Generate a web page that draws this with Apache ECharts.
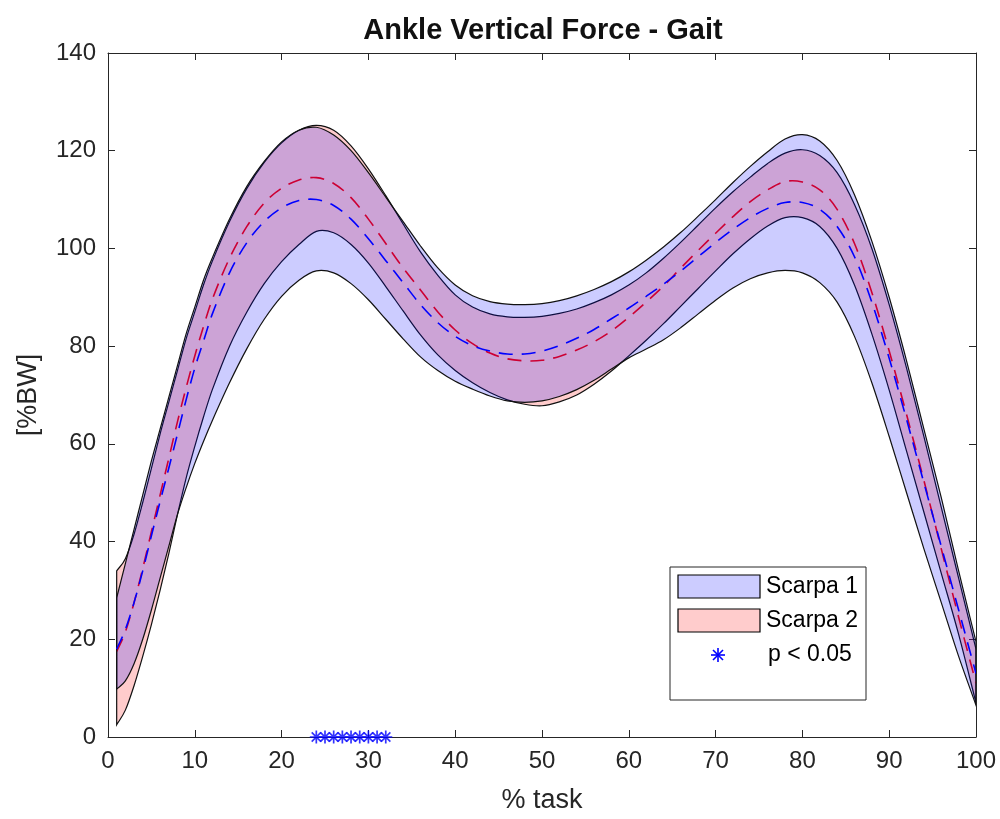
<!DOCTYPE html>
<html><head><meta charset="utf-8">
<script src="https://cdn.jsdelivr.net/npm/echarts/dist/echarts.min.js"></script>
<style>html,body{margin:0;padding:0;background:#fff}#c{width:1000px;height:819px}</style>
</head><body><div id="c"></div>
<script>
// % task sample positions
const X = [1,2,3,4,5,6,7,8,9,10,11,12,14,16,18,20,22,24,26,28,30,32,34,36,38,40,42,44,46,48,50,52,54,56,58,60,62,64,66,68,70,72,74,76,78,80,82,84,86,88,90,92,94,96,98,100];
// Scarpa 1 (blue)
const scarpa1Upper = [28.5,35.5,42.5,49.5,56.5,63,69.5,76,82.5,88,93.5,98,106,112.7,117.8,121.8,124.2,124.8,123.2,120,115.5,110.5,105.5,100.5,96,92.5,90.3,89.1,88.6,88.5,88.7,89.3,90.3,91.6,93.2,95.2,97.6,100.3,103.3,106.6,110,113.5,116.8,119.8,122.4,123.3,122,118,111,101.5,90,77,63,49,34,19.5];
const scarpa1Mean  = [18,22,27.5,34,41.2,48.2,55,62,69,75.5,81,86.5,95,101.2,105.5,108.3,109.8,110,108.8,106,102,97.5,93,88.5,84.8,82,80.1,79,78.4,78.4,79,80.1,81.6,83.4,85.6,87.8,90.2,92.7,95.4,98.3,101.2,103.9,106.3,108.2,109.4,109.4,108,104.5,98.3,89,77.5,65,52,39,26,13];
const scarpa1Lower = [9.8,11.5,15,20,26,32.5,39,45.5,51,56,60.5,64.7,72.5,79.5,85.5,90.2,93.5,95.4,95,92.8,89.5,85.5,81.5,77.8,75,72.8,71.2,69.8,68.8,68.5,68.8,69.7,71.1,73,75.3,77.6,79.4,81.3,83.8,86.6,89.4,91.9,93.8,95,95.5,95,93,89,82,72.5,61.5,50,38.5,27.5,16.5,6.5];
// Scarpa 2 (red)
const scarpa2Upper = [34,36.5,41.5,48,55,62,68.5,75,81.5,87,92.5,97.3,105.5,112.3,117.6,121.6,124.2,125.2,124.2,121,116.3,110.8,105,99.3,94.5,90.5,88,86.6,86,85.9,86.1,86.7,87.6,88.9,90.5,92.5,95,98,101.3,104.8,108.3,111.6,114.6,117.4,119.5,120.2,119,115.5,109,100,88.5,75.5,61.5,47,32.5,18];
const scarpa2Mean  = [17.5,21.5,27.5,34.5,42,49.5,57,64.5,71.5,78,84,89.5,98,104.5,109.3,112.3,114,114.5,113.3,110.4,106,101,96,91.5,87,83.3,80.5,78.6,77.4,77,77.1,77.9,79.2,80.9,83.1,85.9,89,92.3,96,99.6,103.1,106.5,109.6,112,113.7,113.6,112,108,101,91,79,66,52.5,38.5,24.5,11];
const scarpa2Lower = [2.5,5.5,10.5,16.5,23,30,37.5,45.5,53,59.5,65.5,71,80,87,92.8,97.3,100.8,103.5,103.2,100.8,97,92.2,87.2,82.3,78.2,75,72.5,70.5,69,68.1,67.8,68.6,70,72.2,74.9,78,81.2,84.6,88.2,91.8,95.4,98.9,102,104.6,106.3,106.3,104.5,100,92.5,82.5,71,58.5,46,33.5,21,7];
// significant samples (p < 0.05)
const sigX = [24,25,26,27,28,29,30,31,32];
const sigY = [0,0,0,0,0,0,0,0,0];
// tick settings
const xTicks = {min:0, max:100, interval:10};
const yTicks = {min:0, max:140, interval:20};

const FONT = '"Liberation Sans", Arial, Helvetica, sans-serif';
const AX = '#262626';

// cubic Hermite path through pixel points (x may go either direction)
function curvePath(p, start){
  const n = p.length;
  const s = p.map((q,i)=>{
    const a = p[Math.max(0,i-1)], b = p[Math.min(n-1,i+1)];
    return (b[1]-a[1])/(b[0]-a[0]);
  });
  let d = (start ? 'M' : 'L') + p[0][0].toFixed(2) + ',' + p[0][1].toFixed(2);
  for(let i=0;i<n-1;i++){
    const h = p[i+1][0]-p[i][0];
    const c1x = p[i][0]+h/3, c1y = p[i][1]+s[i]*h/3;
    const c2x = p[i+1][0]-h/3, c2y = p[i+1][1]-s[i+1]*h/3;
    d += 'C'+c1x.toFixed(2)+','+c1y.toFixed(2)+' '+c2x.toFixed(2)+','+c2y.toFixed(2)+' '+p[i+1][0].toFixed(2)+','+p[i+1][1].toFixed(2);
  }
  return d;
}

function band(U, L, fill, z){
  return {type:'custom', silent:true, z:z, clip:true,
    data:[[X[0], U[0]]], encode:{x:0, y:1},
    renderItem:function(params, api){
      const up = X.map((x,i)=>api.coord([x, U[i]]));
      const lo = X.map((x,i)=>api.coord([x, L[i]])).reverse();
      const d = curvePath(up, true) + curvePath(lo, false) + 'Z';
      return {type:'path', shape:{pathData:d}, style:{fill:fill, stroke:'#111', lineWidth:1.2}};
    }};
}
function meanLine(M, color, z){
  return {type:'custom', silent:true, z:z, clip:true,
    data:[[X[0], M[0]]], encode:{x:0, y:1},
    renderItem:function(params, api){
      const p = X.map((x,i)=>api.coord([x, M[i]]));
      return {type:'path', shape:{pathData:curvePath(p, true)},
        style:{fill:null, stroke:color, lineWidth:1.6, lineDash:[14,9]}};
    }};
}

const axisCommon = {
  axisLine:{show:true, onZero:false, lineStyle:{color:AX, width:1}},
  axisTick:{show:true, inside:true, length:7, lineStyle:{color:AX, width:1}},
  splitLine:{show:false}
};

const chart = echarts.init(document.getElementById('c'), null, {renderer:'canvas'});
chart.setOption({
  animation:false,
  backgroundColor:'#fff',
  title:{text:'Ankle Vertical Force - Gait', left:538, top:11, textAlign:'center',
    textStyle:{fontFamily:FONT, fontSize:29, fontWeight:'bold', color:'#111'}},
  grid:{left:108, right:24, top:53, bottom:79, containLabel:false},
  xAxis:[
    Object.assign({type:'value', position:'bottom', min:xTicks.min, max:xTicks.max, interval:xTicks.interval,
      name:'% task', nameLocation:'middle', nameGap:50,
      nameTextStyle:{fontFamily:FONT, fontSize:27, color:AX},
      axisLabel:{color:AX, fontFamily:FONT, fontSize:24, margin:12}}, axisCommon),
    Object.assign({type:'value', position:'top', min:xTicks.min, max:xTicks.max, interval:xTicks.interval,
      axisLabel:{show:false}}, axisCommon)
  ],
  yAxis:[
    Object.assign({type:'value', position:'left', min:yTicks.min, max:yTicks.max, interval:yTicks.interval,
      name:'[%BW]', nameLocation:'middle', nameGap:66,
      nameTextStyle:{fontFamily:FONT, fontSize:27, color:AX},
      axisLabel:{color:AX, fontFamily:FONT, fontSize:24, margin:12}}, axisCommon),
    Object.assign({type:'value', position:'right', min:yTicks.min, max:yTicks.max, interval:yTicks.interval,
      axisLabel:{show:false}}, axisCommon)
  ],
  series:[
    band(scarpa2Upper, scarpa2Lower, 'rgba(255,0,0,0.2)', 1),
    meanLine(scarpa2Mean, '#ff0000', 2),
    band(scarpa1Upper, scarpa1Lower, 'rgba(0,0,255,0.2)', 3),
    meanLine(scarpa1Mean, '#0000ff', 4),
    {type:'scatter', data: sigX.map((x,i)=>[x,sigY[i]]), clip:false, z:10, silent:true,
      symbol:'path://M12 0L12 24M0 12L24 12M3.5 3.5L20.5 20.5M3.5 20.5L20.5 3.5', symbolSize:13,
      itemStyle:{color:'none', borderColor:'#0000ff', borderWidth:1.7}}
  ],
  graphic:[
    {type:'rect', shape:{x:670, y:567, width:196, height:133}, style:{fill:'#fff', stroke:AX, lineWidth:1}, z:20},
    {type:'rect', shape:{x:678, y:575, width:82, height:23}, style:{fill:'#ccccff', stroke:'#000', lineWidth:1.2}, z:21},
    {type:'rect', shape:{x:678, y:609, width:82, height:23}, style:{fill:'#ffcccc', stroke:'#000', lineWidth:1.2}, z:21},
    {type:'line', shape:{x1:718, y1:648, x2:718, y2:662}, style:{stroke:'#0000ff', lineWidth:1.6}, z:21},
    {type:'line', shape:{x1:711, y1:655, x2:725, y2:655}, style:{stroke:'#0000ff', lineWidth:1.6}, z:21},
    {type:'line', shape:{x1:713, y1:650, x2:723, y2:660}, style:{stroke:'#0000ff', lineWidth:1.6}, z:21},
    {type:'line', shape:{x1:713, y1:660, x2:723, y2:650}, style:{stroke:'#0000ff', lineWidth:1.6}, z:21},
    {type:'text', x:766, y:587, z:21, style:{text:'Scarpa 1', font:'23px '+FONT, fill:'#000', textAlign:'left', align:'left', textVerticalAlign:'middle', verticalAlign:'middle'}},
    {type:'text', x:766, y:621, z:21, style:{text:'Scarpa 2', font:'23px '+FONT, fill:'#000', textAlign:'left', align:'left', textVerticalAlign:'middle', verticalAlign:'middle'}},
    {type:'text', x:768, y:655, z:21, style:{text:'p < 0.05', font:'23px '+FONT, fill:'#000', textAlign:'left', align:'left', textVerticalAlign:'middle', verticalAlign:'middle'}}
  ]
});
</script>
</body></html>
